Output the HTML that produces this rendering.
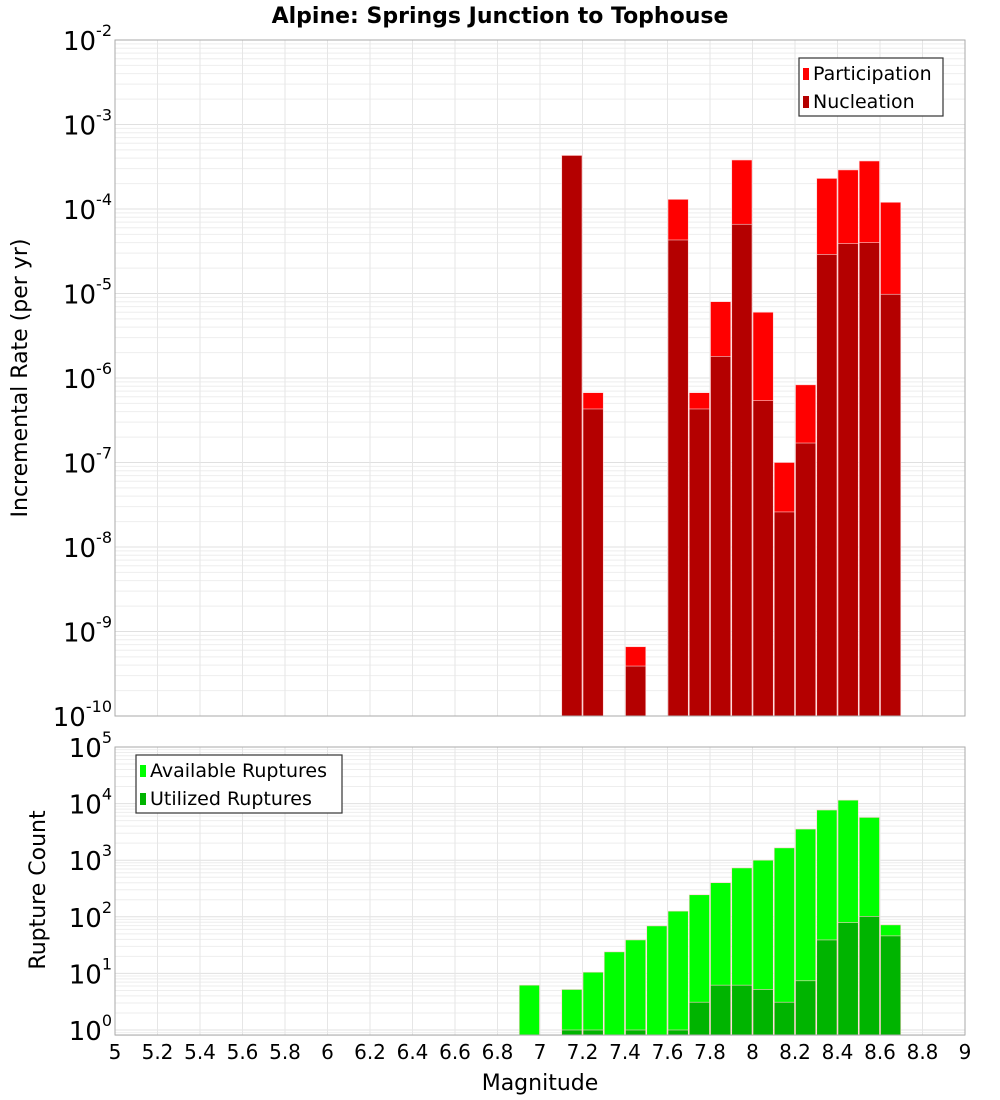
<!DOCTYPE html>
<html><head><meta charset="utf-8"><style>
html,body{margin:0;padding:0;background:#fff;}
svg{display:block;font-family:"DejaVu Sans","Liberation Sans",sans-serif;}
</style></head><body>
<svg id="chart" width="1000" height="1100" xmlns="http://www.w3.org/2000/svg">
<text x="500" y="23" text-anchor="middle" font-size="22" font-weight="bold">Alpine: Springs Junction to Tophouse</text>
<g id="gtop"></g><g id="gbot"></g>
<text transform="translate(27,378) rotate(-90)" text-anchor="middle" font-size="22">Incremental Rate (per yr)</text>
<text transform="translate(45,890) rotate(-90)" text-anchor="middle" font-size="22">Rupture Count</text>
<text x="540" y="1090" text-anchor="middle" font-size="22">Magnitude</text>
</svg>
<script>
const mags = [7.1,7.2,7.4,7.6,7.7,7.8,7.9,8.0,8.1,8.2,8.3,8.4,8.5,8.6];
const participation = [4.3e-4,6.7e-7,6.6e-10,1.3e-4,6.7e-7,8e-6,3.8e-4,6e-6,1.0e-7,8.3e-7,2.3e-4,2.9e-4,3.7e-4,1.2e-4];
const nucleation = [4.3e-4,4.3e-7,3.9e-10,4.3e-5,4.3e-7,1.8e-6,6.6e-5,5.4e-7,2.6e-8,1.7e-7,2.9e-5,3.9e-5,4e-5,9.8e-6];
const countMags = [6.9,7.1,7.2,7.3,7.4,7.5,7.6,7.7,7.8,7.9,8.0,8.1,8.2,8.3,8.4,8.5,8.6];
const available = [6.2,5.2,10.5,24,39,69,126,245,400,730,1000,1650,3550,7700,11500,5700,72];
const utilized = [0,1,1,0,1,0,1,3.1,6.2,6.2,5.2,3.1,7.4,39,79,102,46];
const xTicks = [5,5.2,5.4,5.6,5.8,6,6.2,6.4,6.6,6.8,7,7.2,7.4,7.6,7.8,8,8.2,8.4,8.6,8.8,9];
const topExps = [-2,-3,-4,-5,-6,-7,-8,-9,-10];
const botExps = [5,4,3,2,1,0];

const NS="http://www.w3.org/2000/svg";
const L=115,R=965;
const xs=m=>L+(m-5)/4*(R-L);
const T1=40,B1=716,yTop=v=>T1+(-2-Math.log10(v))/8*(B1-T1);
const T2=747,B2=1035,P5=747,P0=1030,yBot=v=>P5+(5-Math.log10(v))/5*(P0-P5);
function mk(parent,tag,attrs){const e=document.createElementNS(NS,tag);for(const k in attrs)e.setAttribute(k,attrs[k]);parent.appendChild(e);return e;}

function panel(g,T,B,yf,lo,hi,isTop){
  const bg=mk(g,'rect',{x:L,y:T,width:R-L,height:B-T,fill:'#fff'});
  
  
  for(let e=lo;e<hi;e++){for(let k=1;k<10;k++){const v=k*Math.pow(10,e);const y=yf(v);if(y<T-0.5||y>B+0.5)continue;
    const l=mk(g,'line',{x1:L,x2:R,y1:y,y2:y,stroke:k==1?'#e0e0e0':'#eeeeee','stroke-width':1});
    
    }}
  xTicks.forEach(m=>{const x=xs(m);const l=mk(g,'line',{x1:x,x2:x,y1:T,y2:B,stroke:'#e6e6e6','stroke-width':1});
    
    });
}
const gTop=document.getElementById('gtop'),gBot=document.getElementById('gbot');
panel(gTop,T1,B1,yTop,-10,-2,true);
panel(gBot,T2,B2,yBot,-1,5,false);
const bw=(xs(5.1)-xs(5));
function bar(g,m,v,yf,B,col,name){if(!(v>0))return;const y=Math.max(yf(v),0);
  const r=mk(g,'rect',{x:xs(m)+0.5,y:y,width:bw-1,height:B-y,fill:col,stroke:'#ffd0d0','stroke-width':0.6});
  
  }
mags.forEach((m,i)=>bar(gTop,m,participation[i],yTop,B1,'#ff0000','participation-bar'));
mags.forEach((m,i)=>bar(gTop,m,nucleation[i],yTop,B1,'#b40000','nucleation-bar'));
countMags.forEach((m,i)=>bar(gBot,m,available[i],yBot,B2,'#00ff00','available-bar'));
countMags.forEach((m,i)=>bar(gBot,m,utilized[i],yBot,B2,'#00b400','utilized-bar'));
const svg=document.getElementById('chart');
[[T1,B1],[T2,B2]].forEach(([T,B])=>{const f=mk(svg,'rect',{x:L,y:T,width:R-L,height:B-T,fill:'none',stroke:'#aaaaaa','stroke-width':1});
  
  });
function ylab(e,y,name){const t=mk(svg,'text',{x:105,y:y+10,'text-anchor':'end','font-size':26});
  
  
  t.textContent='10';const s=document.createElementNS(NS,'tspan');s.setAttribute('dy','-14');s.setAttribute('font-size','16');s.textContent=String(e);t.appendChild(s);
  t.setAttribute('x',112);t.setAttribute('text-anchor','end');}
topExps.forEach(e=>ylab(e,yTop(Math.pow(10,e)),'top-y-tick-label'));
botExps.forEach(e=>ylab(e,yBot(Math.pow(10,e)),'bottom-y-tick-label'));
xTicks.forEach(m=>{const t=mk(svg,'text',{x:xs(m),y:1059,'text-anchor':'middle','font-size':20});
  
  
  t.textContent=String(m);});
function legend(x,y,w,items,name){const g=mk(svg,'g',{});
  
  
  mk(g,'rect',{x:x,y:y,width:w,height:58,fill:'#fff',stroke:'#333','stroke-width':1.2});
  items.forEach(([lab,col],i)=>{const sw=mk(g,'rect',{x:x+4,y:y+10+i*28,width:6,height:12,fill:col});
    
    
    const t=mk(g,'text',{x:x+14,y:y+22+i*28,'font-size':19});
    
    
    t.textContent=lab;});}
legend(799,58,144,[['Participation','#ff0000'],['Nucleation','#b40000']],'top-legend');
legend(136,755,206,[['Available Ruptures','#00ff00'],['Utilized Ruptures','#00b400']],'bottom-legend');
</script>
</body></html>
